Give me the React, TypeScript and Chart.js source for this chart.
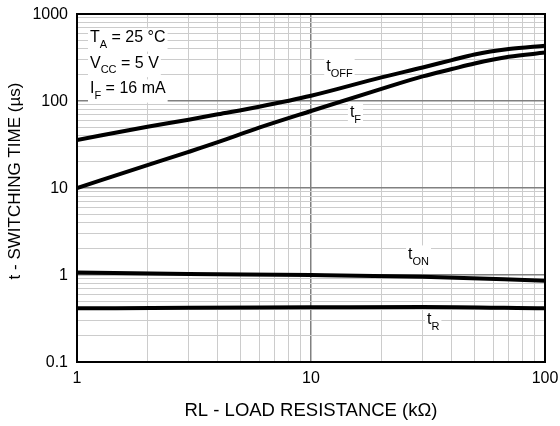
import React, { useEffect, useRef } from "react";
import { Chart, registerables } from "chart.js";

Chart.register(...registerables);

const xTickLabels = [1, 10, 100];
const yTickLabels = [0.1, 1, 10, 100, 1000];
const minorSteps = [1, 2, 3, 4, 5, 6, 7, 8, 9];

const rlValues = [1, 2, 3, 4, 6, 10, 20, 30, 40, 50, 70, 100];
const tOff = [35.6, 50.5, 61, 70.3, 86, 115, 187, 243, 295, 342, 395, 432];
const tF = [10, 18.3, 26.0, 33.6, 49.3, 76.7, 138, 192, 233, 270, 322, 360];
const rlFlat = [1, 3, 10, 30, 100];
const tOn = [1.07, 1.03, 1.0, 0.955, 0.86];
const tR = [0.414, 0.42, 0.425, 0.43, 0.414];

const xTitle = "RL - LOAD RESISTANCE (kΩ)";
const yTitle = "t - SWITCHING TIME (µs)";

const curveLabels = [
  { main: "t", sub: "OFF", x: 12.2, y: 233 },
  { main: "t", sub: "F", x: 15.4, y: 69 },
  { main: "t", sub: "ON", x: 27.3, y: 1.61 },
  { main: "t", sub: "R", x: 32.9, y: 0.288 },
];

const conditions = [
  { main: "T", sub: "A", rest: " = 25 °C" },
  { main: "V", sub: "CC", rest: " = 5 V" },
  { main: "I", sub: "F", rest: " = 16 mA" },
];

const FONT = "Arial, 'Liberation Sans', sans-serif";

function drawSubText(ctx: CanvasRenderingContext2D, x: number, y: number, main: string, sub: string, rest: string, size: number) {
  ctx.save();
  ctx.textBaseline = "middle";
  ctx.textAlign = "left";
  const big = `${size}px ${FONT}`;
  const small = `${Math.round(size * 0.68)}px ${FONT}`;
  ctx.font = big;
  const w1 = ctx.measureText(main).width;
  ctx.font = small;
  const w2 = ctx.measureText(sub).width;
  ctx.font = big;
  const w3 = rest ? ctx.measureText(rest).width : 0;
  ctx.fillStyle = "#ffffff";
  ctx.fillRect(x - 2, y - size * 0.6, w1 + w2 + w3 + 4, size * 1.45);
  ctx.fillStyle = "#000000";
  ctx.font = big;
  ctx.fillText(main, x, y);
  ctx.font = small;
  ctx.fillText(sub, x + w1, y + size * 0.42);
  if (rest) {
    ctx.font = big;
    ctx.fillText(rest, x + w1 + w2, y);
  }
  ctx.restore();
}

const annotPlugin = {
  id: "annot",
  beforeDatasetsDraw(chart: any) {
    const ctx = chart.ctx;
    const xs = chart.scales.x;
    const ys = chart.scales.y;
    const area = chart.chartArea;
    conditions.forEach((c, i) => {
      drawSubText(ctx, area.left + 13, area.top + 24 + i * 25.5, c.main, c.sub, c.rest, 16);
    });
    curveLabels.forEach((l) => {
      const px = xs.getPixelForValue(l.x);
      const py = ys.getPixelForValue(l.y);
      drawSubText(ctx, px - 5, py - 2, l.main, l.sub, "", 16);
    });
  },
  afterDatasetsDraw(chart: any) {
    const ctx = chart.ctx;
    const a = chart.chartArea;
    const xs = chart.scales.x;
    const ys = chart.scales.y;
    ctx.save();
    ctx.strokeStyle = "#000";
    ctx.lineWidth = 2;
    ctx.strokeRect(a.left, a.top, a.right - a.left, a.bottom - a.top);
    ctx.fillStyle = "#000";
    ctx.font = `16px ${FONT}`;
    ctx.textAlign = "center";
    ctx.textBaseline = "middle";
    xTickLabels.forEach((v) => {
      ctx.fillText(String(v), xs.getPixelForValue(v), a.bottom + 17);
    });
    ctx.textAlign = "right";
    yTickLabels.forEach((v) => {
      ctx.fillText(String(v), a.left - 9, ys.getPixelForValue(v) + 1);
    });
    ctx.font = `18.5px ${FONT}`;
    ctx.textAlign = "center";
    ctx.fillText(xTitle, (a.left + a.right) / 2, 411);
    ctx.translate(15, (a.top + a.bottom) / 2 - 7);
    ctx.rotate(-Math.PI / 2);
    ctx.font = `17px ${FONT}`;
    ctx.fillText(yTitle, 0, 0);
    ctx.restore();
  },
};

function decadeTicks(labels: number[]) {
  const out: { value: number }[] = [];
  for (let i = 0; i < labels.length - 1; i++) {
    minorSteps.forEach((m) => out.push({ value: labels[i] * m }));
  }
  out.push({ value: labels[labels.length - 1] });
  return out;
}

function isMajor(v: number, labels: number[]) {
  return labels.some((l) => Math.abs(l - v) / l < 1e-6);
}

export default function App() {
  const ref = useRef<HTMLCanvasElement | null>(null);
  useEffect(() => {
    if (!ref.current) return;
    const mk = (xs: number[], ys: number[]) => xs.map((x, i) => ({ x, y: ys[i] }));
    const ds = (data: any, w: number) => ({
      data,
      borderColor: "#000",
      borderWidth: w,
      pointRadius: 0,
      fill: false,
      cubicInterpolationMode: "monotone" as const,
      borderCapStyle: "butt" as const,
    });
    const chart = new Chart(ref.current, {
      type: "line",
      data: {
        datasets: [
          ds(mk(rlValues, tOff), 4),
          ds(mk(rlValues, tF), 4),
          ds(mk(rlFlat, tOn), 4),
          ds(mk(rlFlat, tR), 4),
        ],
      },
      options: {
        animation: false,
        responsive: false,
        layout: { padding: { left: 0, top: 14, right: 15, bottom: 0 } },
        plugins: { legend: { display: false }, tooltip: { enabled: false } },
        scales: {
          x: {
            type: "logarithmic",
            min: 1,
            max: 100,
            afterBuildTicks: (s: any) => {
              s.ticks = decadeTicks(xTickLabels);
            },
            afterFit: (s: any) => {
              s.height = 64;
            },
            ticks: { display: false, autoSkip: false },
            grid: {
              drawTicks: false,
              color: (c: any) => (isMajor(c.tick?.value, xTickLabels) ? "#808080" : "#cccccc"),
              lineWidth: (c: any) => (isMajor(c.tick?.value, xTickLabels) ? 1.5 : 1),
            },
            border: { display: false },
          },
          y: {
            type: "logarithmic",
            min: 0.1,
            max: 1000,
            afterBuildTicks: (s: any) => {
              s.ticks = decadeTicks(yTickLabels);
            },
            afterFit: (s: any) => {
              s.width = 77;
            },
            ticks: { display: false, autoSkip: false },
            grid: {
              drawTicks: false,
              color: (c: any) => (isMajor(c.tick?.value, yTickLabels) ? "#808080" : "#cccccc"),
              lineWidth: (c: any) => (isMajor(c.tick?.value, yTickLabels) ? 1.5 : 1),
            },
            border: { display: false },
          },
        },
      },
      plugins: [annotPlugin],
    });
    return () => chart.destroy();
  }, []);
  return (
    <div style={{ position: "absolute", left: 0, top: 0, width: 560, height: 426, background: "#fff" }}>
      <canvas ref={ref} width={560} height={426} style={{ display: "block" }} />
    </div>
  );
}
